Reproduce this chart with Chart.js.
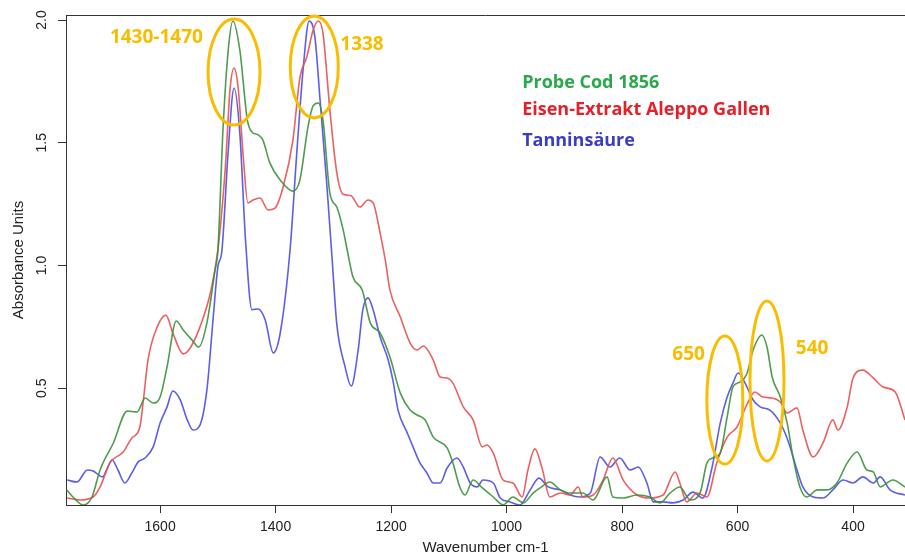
<!DOCTYPE html>
<html><head><meta charset="utf-8">
<script src="https://cdn.jsdelivr.net/npm/chart.js@4.4.0/dist/chart.umd.min.js"></script>
<style>html,body{margin:0;padding:0;background:#fff}#wrap{width:905px;height:560px;position:relative}</style>
</head><body><div id="wrap"><canvas id="c" width="905" height="560"></canvas></div>
<script>
// ---- data ----
const probeWn  = [1762,1751,1733,1718,1704,1681,1657,1640,1626,1612,1600,1588,1572,1560,1545,1533,1519,1505,1500,1491,1482,1474,1462,1449,1441,1430,1422,1410,1392,1370,1358,1344,1335,1326,1318,1306,1294,1283,1276,1266,1250,1236,1219,1202,1184,1167,1155,1141,1127,1103,1093,1081,1072,1058,1042,1023,1006,989,971,954,942,925,907,890,868,850,826,816,798,774,752,734,717,700,682,665,653,643,630,618,608,596,584,573,558,549,540,526,514,504,492,480,462,445,428,410,393,376,365,353,331,310];
const probeAbs = [0.086,0.057,0.024,0.057,0.167,0.277,0.407,0.403,0.46,0.44,0.464,0.587,0.774,0.737,0.697,0.668,0.766,0.98,1.06,1.56,1.878,1.996,1.878,1.593,1.544,1.532,1.511,1.418,1.348,1.303,1.348,1.564,1.65,1.662,1.593,1.295,1.238,1.145,1.063,0.953,0.90,0.766,0.725,0.627,0.48,0.411,0.391,0.371,0.301,0.257,0.196,0.098,0.065,0.126,0.094,0.057,0.025,0.057,0.033,0.073,0.094,0.118,0.086,0.073,0.073,0.045,0.139,0.057,0.053,0.065,0.057,0.033,0.073,0.098,0.045,0.073,0.196,0.216,0.236,0.383,0.505,0.525,0.558,0.656,0.717,0.668,0.546,0.464,0.358,0.22,0.098,0.057,0.086,0.086,0.114,0.196,0.24,0.167,0.159,0.098,0.126,0.098];

const eisenWn  = [1761,1739,1716,1704,1687,1664,1649,1635,1629,1621,1605,1590,1578,1560,1548,1531,1513,1500,1487,1479,1472,1465,1456,1448,1439,1427,1413,1401,1387,1370,1358,1346,1335,1326,1318,1306,1294,1283,1270,1254,1240,1231,1219,1210,1202,1184,1167,1155,1144,1127,1115,1103,1093,1075,1058,1042,1034,1023,1006,989,973,963,951,939,925,907,890,876,868,850,833,816,798,774,752,729,708,700,688,670,653,636,618,601,584,570,556,540,526,514,497,487,469,452,435,426,410,400,383,365,348,327,310];
const eisenAbs = [0.053,0.045,0.057,0.098,0.196,0.24,0.297,0.342,0.452,0.615,0.75,0.798,0.725,0.64,0.664,0.75,0.888,1.063,1.401,1.715,1.804,1.727,1.442,1.255,1.267,1.275,1.226,1.234,1.32,1.511,1.764,1.849,1.959,1.996,1.947,1.633,1.377,1.29,1.285,1.238,1.267,1.255,1.132,1.022,0.90,0.79,0.684,0.656,0.672,0.615,0.546,0.542,0.521,0.424,0.371,0.261,0.269,0.236,0.126,0.114,0.057,0.167,0.253,0.179,0.057,0.073,0.065,0.098,0.057,0.065,0.126,0.216,0.126,0.065,0.053,0.065,0.159,0.114,0.037,0.073,0.057,0.196,0.301,0.342,0.432,0.485,0.464,0.46,0.444,0.399,0.42,0.33,0.22,0.277,0.371,0.33,0.424,0.542,0.574,0.542,0.505,0.485,0.371];

const tanninWn  = [1761,1744,1726,1716,1700,1683,1673,1661,1649,1638,1626,1612,1600,1588,1578,1565,1553,1543,1531,1519,1508,1500,1493,1482,1472,1462,1452,1441,1430,1418,1404,1392,1375,1363,1352,1342,1332,1323,1311,1302,1294,1280,1269,1257,1249,1240,1231,1219,1205,1197,1188,1172,1162,1150,1138,1127,1115,1103,1086,1075,1063,1051,1041,1023,1011,994,977,959,944,928,907,890,873,855,838,821,804,786,772,757,746,729,712,694,677,660,644,630,618,608,599,587,573,561,544,526,513,497,487,469,452,435,417,400,383,365,353,336,310];
const tanninAbs = [0.126,0.118,0.167,0.163,0.139,0.208,0.167,0.114,0.155,0.2,0.216,0.261,0.358,0.424,0.489,0.452,0.371,0.33,0.35,0.493,0.79,0.994,1.06,1.47,1.723,1.54,1.1,0.82,0.823,0.778,0.644,0.725,1.063,1.47,1.809,1.996,1.931,1.674,1.32,1.022,0.76,0.59,0.509,0.656,0.819,0.868,0.819,0.709,0.615,0.534,0.411,0.318,0.261,0.196,0.155,0.114,0.114,0.175,0.216,0.179,0.114,0.098,0.126,0.114,0.053,0.037,0.024,0.086,0.134,0.098,0.086,0.065,0.057,0.073,0.22,0.179,0.216,0.167,0.179,0.114,0.037,0.037,0.033,0.045,0.077,0.053,0.179,0.358,0.464,0.521,0.562,0.521,0.452,0.424,0.411,0.358,0.289,0.167,0.098,0.057,0.053,0.086,0.126,0.114,0.139,0.114,0.139,0.086,0.065];

const xTickValues = [1600,1400,1200,1000,800,600,400];
const yTickValues = [0.5,1.0,1.5,2.0];
const yTickLabels = ['0.5','1.0','1.5','2.0'];
const seriesNames = ['Probe Cod 1856','Eisen-Extrakt Aleppo Gallen','Tanninsäure'];
const peakLabels = ['1430-1470','1338','650','540'];
const peakCenterWn  = [1472,1333,622,549];
const peakCenterAbs = [1.788,1.809,0.452,0.53];
const peakLabelWn  = [1687,1288,713,499];
const peakLabelAbs = [1.906,1.878,0.615,0.64];
const legendWn = 973;
const legendAbs = [1.723,1.613,1.487];

// ---- styling ----
const lineColors = ['rgba(60,145,60,0.9)','rgba(232,80,80,0.9)','rgba(75,75,232,0.9)'];
const textColors = ['#2aa84a','#e4202a','#3a3ec4'];
const ellipseRadii = [[26,53],[24,51],[18,64],[17,80]];
const AXIS_COLOR = '#333';
const FONT = 'Liberation Sans, Arial, sans-serif';

function pts(wn, ab){ return wn.map((w,i)=>({x:w, y:ab[i]})); }

const overlay = {
  id:'overlay',
  afterDraw(chart){
    const {ctx, chartArea:a, scales:{x,y}} = chart;
    ctx.save();
    // top frame line
    ctx.strokeStyle = AXIS_COLOR; ctx.lineWidth = 1;
    ctx.beginPath(); ctx.moveTo(a.left, a.top+0.5); ctx.lineTo(a.right, a.top+0.5); ctx.stroke();
    // rotated y tick labels
    ctx.fillStyle = '#222'; ctx.font = '14px ' + FONT;
    ctx.textAlign = 'center'; ctx.textBaseline = 'middle';
    yTickValues.forEach((v,i)=>{
      const py = y.getPixelForValue(v);
      ctx.save(); ctx.translate(42, py); ctx.rotate(-Math.PI/2);
      ctx.fillText(yTickLabels[i], 0, 0); ctx.restore();
    });
    // ellipses
    ctx.strokeStyle = '#f8bd00'; ctx.lineWidth = 3;
    peakCenterWn.forEach((w,i)=>{
      const cx = x.getPixelForValue(w), cy = y.getPixelForValue(peakCenterAbs[i]);
      ctx.beginPath(); ctx.ellipse(cx, cy, ellipseRadii[i][0], ellipseRadii[i][1], 0, 0, Math.PI*2); ctx.stroke();
    });
    // peak labels
    ctx.fillStyle = '#f8bd00'; ctx.font = 'bold 19px "Open Sans", sans-serif';
    ctx.textAlign = 'left'; ctx.textBaseline = 'alphabetic';
    peakLabels.forEach((t,i)=>{
      ctx.fillText(t, x.getPixelForValue(peakLabelWn[i]), y.getPixelForValue(peakLabelAbs[i]));
    });
    // legend text
    ctx.font = 'bold 18px "Open Sans", sans-serif';
    seriesNames.forEach((t,i)=>{
      ctx.fillStyle = textColors[i];
      ctx.fillText(t, x.getPixelForValue(legendWn), y.getPixelForValue(legendAbs[i]));
    });
    ctx.restore();
  }
};

new Chart(document.getElementById('c'), {
  type:'line',
  data:{ datasets:[
    {label:seriesNames[0], data:pts(probeWn, probeAbs), borderColor:lineColors[0]},
    {label:seriesNames[1], data:pts(eisenWn, eisenAbs), borderColor:lineColors[1]},
    {label:seriesNames[2], data:pts(tanninWn, tanninAbs), borderColor:lineColors[2]}
  ]},
  options:{
    responsive:false, animation:false, devicePixelRatio:1,
    layout:{padding:{top:15,right:0,left:0,bottom:0}},
    elements:{ line:{borderWidth:1.6, cubicInterpolationMode:'monotone', fill:false}, point:{radius:0, hoverRadius:0} },
    plugins:{ legend:{display:false}, tooltip:{enabled:false} },
    scales:{
      x:{ type:'linear', reverse:true, min:310, max:1763,
        afterBuildTicks:s=>{ s.ticks = xTickValues.map(v=>({value:v})); },
        afterFit:s=>{ s.height = 55; },
        ticks:{ font:{family:FONT, size:14}, color:'#222', padding:6, maxRotation:0, autoSkip:false, callback:v=>String(v) },
        grid:{ drawOnChartArea:false, drawTicks:true, tickLength:8, color:AXIS_COLOR },
        border:{ display:true, color:AXIS_COLOR, width:1 },
        title:{ display:true, text:'Wavenumber cm-1', font:{family:FONT, size:15}, color:'#222', padding:{top:0,bottom:3} }
      },
      y:{ min:0.0244, max:2.0204,
        afterBuildTicks:s=>{ s.ticks = yTickValues.map(v=>({value:v})); },
        afterFit:s=>{ s.width = 66; },
        ticks:{ display:false },
        grid:{ drawOnChartArea:false, drawTicks:true, tickLength:8, color:AXIS_COLOR },
        border:{ display:true, color:AXIS_COLOR, width:1 },
        title:{ display:true, text:'Absorbance Units', font:{family:FONT, size:15}, color:'#222', padding:{top:10,bottom:0} }
      }
    }
  },
  plugins:[overlay]
});
</script></body></html>
